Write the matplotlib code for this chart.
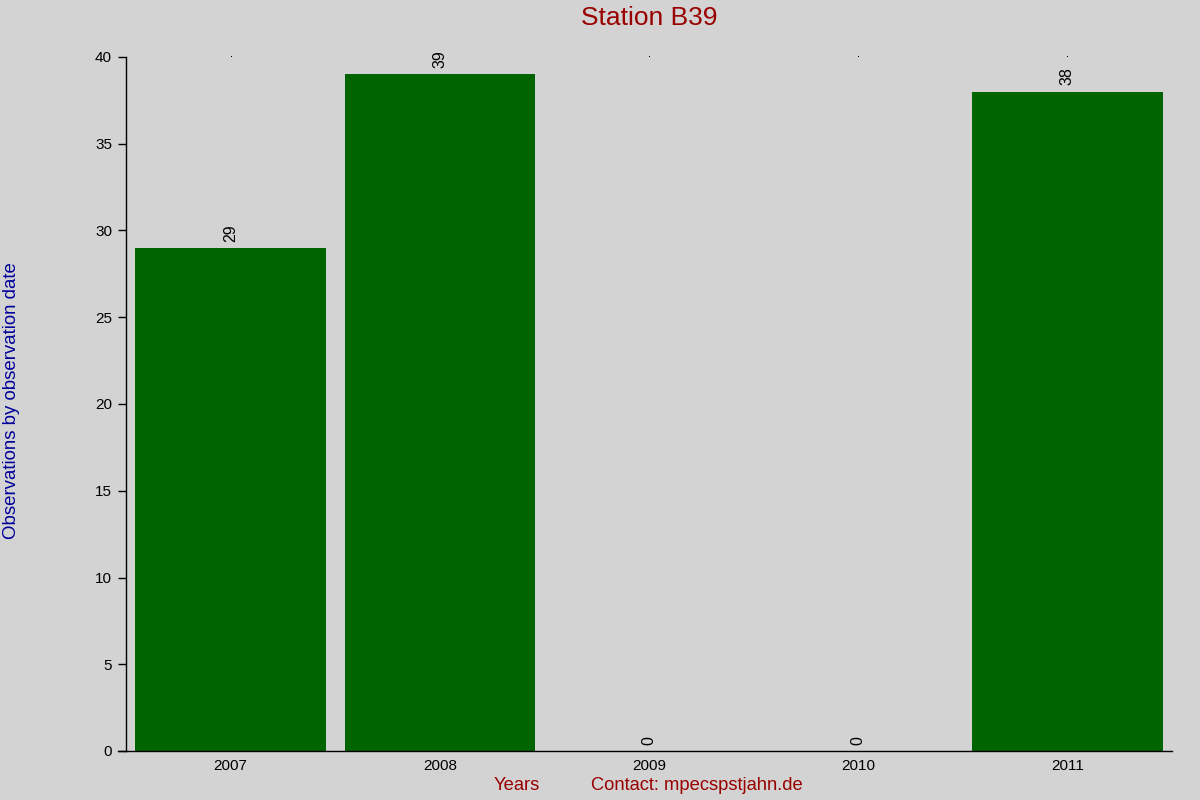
import matplotlib
matplotlib.use("Agg")
import matplotlib.pyplot as plt
import numpy as np

plt.rcParams['font.family'] = ['Liberation Sans', 'DejaVu Sans']

years = ["2007", "2008", "2009", "2010", "2011"]
counts = [29, 39, 0, 0, 38]

BG = '#d3d3d3'
BAR = '#006400'
RED = '#990000'
BLUE = '#000099'

fig = plt.figure(figsize=(12, 8), dpi=100, facecolor=BG)
ax = fig.add_axes([0.105, 0.06125, 0.8717, 0.8675], facecolor=BG)

pos = np.arange(len(years))
ax.bar(pos, counts, width=0.91, color=BAR, zorder=2)

# tiny marks along the top edge
ax.plot(pos, [40] * len(pos), linestyle='none', marker=',',
        color='black', clip_on=False, zorder=1)

# value labels, rotated, above each bar
for x, v in zip(pos, counts):
    ax.annotate(str(v), (x, v), xytext=(0, 4.5), textcoords='offset points',
                rotation=90, ha='center', va='bottom', fontsize=11.5,
                zorder=3, bbox=dict(boxstyle='square,pad=0', fc=BG, ec='none'))

ax.set_xlim(-0.5, 4.5)
ax.set_ylim(0, 40)
ax.set_yticks(np.arange(0, 41, 5))
ax.set_xticks(pos)
ax.set_xticklabels(years)

for s in ['top', 'right']:
    ax.spines[s].set_visible(False)
ax.spines['left'].set_linewidth(1.0)
ax.spines['bottom'].set_linewidth(1.0)
ax.spines['bottom'].set_bounds(-0.5 - 8 / 209, 4.5)

ax.tick_params(axis='y', length=6, width=1.0, labelsize=11, pad=4)
ax.tick_params(axis='x', length=0, labelsize=11, pad=6)

fig.text(0.5408, 0.9775, "Station B39", ha='center', va='center',
         fontsize=19, color=RED)
fig.text(0.0095, 0.4995, "Observations by observation date", rotation=90,
         ha='center', va='center', fontsize=13.4, color=BLUE)
fig.text(0.431, 0.0175, "Years", ha='center', va='center', fontsize=13.2, color=RED)
fig.text(0.581, 0.0175, "Contact: mpecspstjahn.de", ha='center', va='center',
         fontsize=13.2, color=RED)

fig.savefig("out.png", dpi=100, facecolor=BG)
